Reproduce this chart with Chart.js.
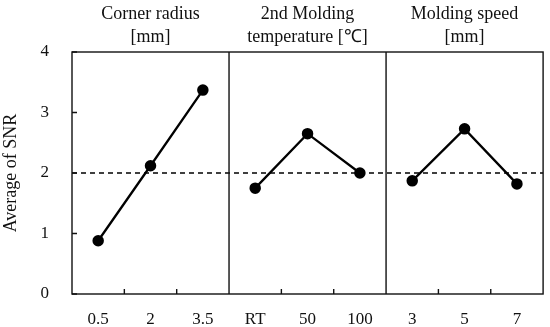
<!DOCTYPE html>
<html>
<head>
<meta charset="utf-8">
<script src="https://cdn.jsdelivr.net/npm/chart.js@4"></script>
<style>
    html, body { margin: 0; padding: 0; background: #fff; }
    #wrap { width: 550px; height: 327px; position: relative; }
</style>
</head>
<body>
<div id="wrap"><canvas id="snrChart"></canvas></div>
<script>
// Datos del gráfico: factores, niveles y promedios de SNR
const panelTitles = [
    ['Corner radius', '[mm]'],
    ['2nd Molding', 'temperature [\u2103]'],
    ['Molding speed', '[mm]']
];
const cornerRadiusLevels = ['0.5', '2', '3.5'];
const temperatureLevels = ['RT', '50', '100'];
const speedLevels = ['3', '5', '7'];

const cornerRadiusSNR = [0.88, 2.12, 3.37];
const temperatureSNR = [1.75, 2.65, 2.00];
const speedSNR = [1.87, 2.73, 1.82];

const overallMean = 2;
const yTicks = [0, 1, 2, 3, 4];

const FONT = "'Liberation Serif', 'Times New Roman', serif";

const allLevels = [cornerRadiusLevels, temperatureLevels, speedLevels];
const allSNR = [cornerRadiusSNR, temperatureSNR, speedSNR];
const labels = [].concat(...allLevels);

// Cada panel es un dataset con nulls fuera de su rango
const datasets = allSNR.map((values, p) => {
    const data = labels.map(() => null);
    values.forEach((v, i) => { data[p * 3 + i] = v; });
    return {
        data: data,
        borderColor: '#000',
        backgroundColor: '#000',
        borderWidth: 2.3,
        pointRadius: 4.6,
        pointHoverRadius: 4.6,
        spanGaps: false,
        tension: 0
    };
});

// Plugin para marco, divisiones, línea media, marcas internas y títulos
const panelPlugin = {
    id: 'panelPlugin',
    beforeDatasetsDraw(chart) {
        const ctx = chart.ctx;
        const area = chart.chartArea;
        const y = chart.scales.y;

        // Línea discontinua en el promedio general
        const yMean = y.getPixelForValue(overallMean);
        ctx.save();
        ctx.strokeStyle = '#000';
        ctx.lineWidth = 1.5;
        ctx.setLineDash([5, 4]);
        ctx.beginPath();
        ctx.moveTo(area.left, yMean);
        ctx.lineTo(area.right, yMean);
        ctx.stroke();
        ctx.restore();
    },
    afterDatasetsDraw(chart) {
        const ctx = chart.ctx;
        const area = chart.chartArea;
        const x = chart.scales.x;
        const y = chart.scales.y;
        const n = labels.length;

        ctx.save();
        ctx.strokeStyle = '#111';
        ctx.lineWidth = 1.4;
        ctx.strokeRect(area.left, area.top, area.right - area.left, area.bottom - area.top);

        ctx.beginPath();
        for (let i = 1; i < n; i++) {
            const xb = (x.getPixelForValue(i - 1) + x.getPixelForValue(i)) / 2;
            if (i % 3 === 0) {
                // división entre paneles
                ctx.moveTo(xb, area.top);
                ctx.lineTo(xb, area.bottom);
            } else {
                // marca interna del eje x
                ctx.moveTo(xb, area.bottom);
                ctx.lineTo(xb, area.bottom - 5);
            }
        }
        yTicks.forEach(v => {
            const yp = y.getPixelForValue(v);
            ctx.moveTo(area.left, yp);
            ctx.lineTo(area.left + 5, yp);
        });
        ctx.stroke();

        // Títulos de cada panel
        ctx.fillStyle = '#111';
        ctx.font = '18px ' + FONT;
        ctx.textAlign = 'center';
        ctx.textBaseline = 'middle';
        panelTitles.forEach((lines, p) => {
            const cx = x.getPixelForValue(p * 3 + 1);
            ctx.fillText(lines[0], cx, 14);
            ctx.fillText(lines[1], cx, 37);
        });
        ctx.restore();
    }
};

new Chart(document.getElementById('snrChart'), {
    type: 'line',
    data: { labels: labels, datasets: datasets },
    options: {
        responsive: true,
        maintainAspectRatio: false,
        animation: false,
        layout: { padding: { top: 52, right: 6, left: 0, bottom: 0 } },
        plugins: {
            legend: { display: false },
            tooltip: { enabled: false }
        },
        scales: {
            x: {
                type: 'category',
                offset: true,
                grid: { display: false },
                border: { display: false },
                ticks: {
                    color: '#111',
                    font: { family: FONT, size: 17 },
                    padding: 7,
                    maxRotation: 0,
                    autoSkip: false
                },
                afterFit(scale) { scale.height = 33; }
            },
            y: {
                min: 0,
                max: 4,
                grid: { display: false },
                border: { display: false },
                ticks: {
                    stepSize: 1,
                    color: '#111',
                    font: { family: FONT, size: 17 },
                    padding: 15
                },
                title: {
                    display: true,
                    text: 'Average of SNR',
                    color: '#111',
                    font: { family: FONT, size: 18 },
                    padding: 0
                },
                afterFit(scale) { scale.width = 72; }
            }
        }
    },
    plugins: [panelPlugin]
});
</script>
</body>
</html>
